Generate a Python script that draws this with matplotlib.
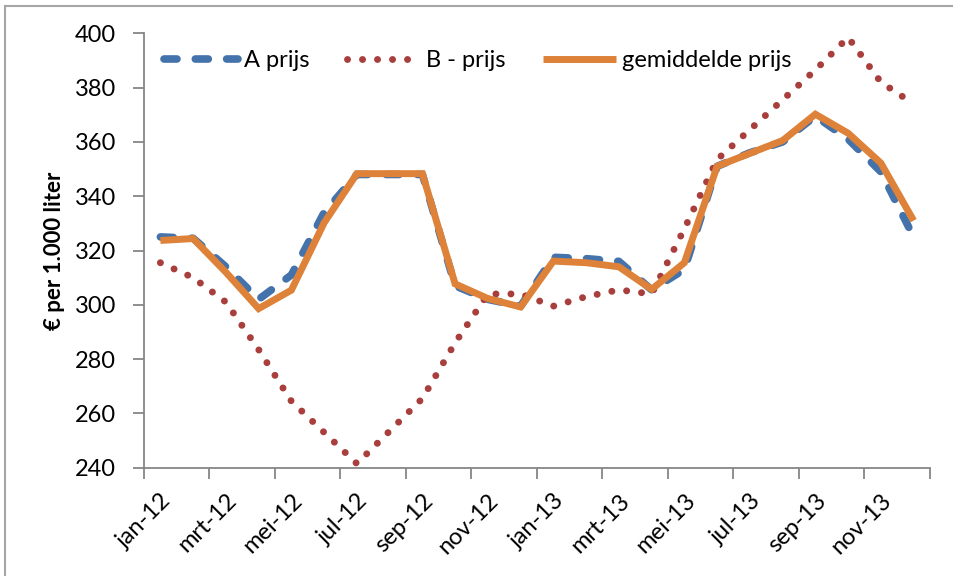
import matplotlib
matplotlib.use('Agg')
import matplotlib.pyplot as plt
from matplotlib.patches import Rectangle

months = ['jan-12', 'feb-12', 'mrt-12', 'apr-12', 'mei-12', 'jun-12', 'jul-12', 'aug-12',
          'sep-12', 'okt-12', 'nov-12', 'dec-12', 'jan-13', 'feb-13', 'mrt-13', 'apr-13',
          'mei-13', 'jun-13', 'jul-13', 'aug-13', 'sep-13', 'okt-13', 'nov-13', 'dec-13']

a_prijs = [325, 324.5, 314, 302, 311, 334, 348, 348, 348, 307, 302, 299.5,
           317.5, 317, 316, 305.5, 313, 351, 356, 360, 369.5, 361, 349, 325]
b_prijs = [315.5, 310, 301, 283.5, 264.5, 253, 241.5, 253.5, 265.5, 286, 304, 304,
           299.5, 303, 305.5, 304, 328, 353.5, 364.5, 375.5, 386.5, 398.5, 382, 374]
gem_prijs = [323.7, 324.4, 312, 298.6, 305.4, 330.2, 348.3, 348.3, 348.3, 307.7, 302.3, 299.2,
             316.1, 315.5, 314, 305.7, 315.5, 351, 355.8, 360.5, 370.2, 363.2, 352.2, 331]

plt.rcParams['font.family'] = ['Lato', 'DejaVu Sans']
fs = 17

fig = plt.figure(figsize=(9.54, 5.76), dpi=100)
ax = fig.add_axes([144 / 954, 1 - 467.7 / 576, (930 - 144) / 954, (467.7 - 33.3) / 576])

x = list(range(len(months)))
ax.plot(x, a_prijs, color='#4472AA', lw=5.5, dashes=(1.7, 2.4),
        dash_capstyle='round', solid_capstyle='round', label='A prijs')
ax.plot(x, b_prijs, color='#A83F3C', lw=5.0, dashes=(0.01, 2.15),
        dash_capstyle='round', label='B - prijs')
ax.plot(x, gem_prijs, color='#DD8238', lw=5, solid_joinstyle='miter',
        solid_capstyle='butt', label='gemiddelde prijs')

ax.set_xlim(-0.5, 23.5)
ax.set_ylim(240, 400)
ax.set_yticks(range(240, 401, 20))
ax.set_xticks([i - 0.5 for i in range(0, 25, 2)])
ax.set_xticklabels([])
ax.set_xticks(x[::2], minor=True)
ax.set_xticklabels(months[::2], minor=True, rotation=45, ha='right',
                   va='top', rotation_mode='anchor', fontsize=fs)
ax.tick_params(axis='x', which='minor', length=0, pad=16)
ax.tick_params(axis='both', which='major', length=8, width=1.3, color='#868686',
               labelsize=fs, direction='out')
ax.tick_params(axis='y', pad=12)

for s in ['top', 'right']:
    ax.spines[s].set_visible(False)
for s in ['left', 'bottom']:
    ax.spines[s].set_color('#868686')
    ax.spines[s].set_linewidth(1.3)

ax.set_ylabel('€ per 1.000 liter', fontsize=16, fontweight='bold')
ax.yaxis.set_label_coords(-0.1, 0.5)

ax.legend(loc='upper left', bbox_to_anchor=(0.005, 1.0), ncol=3, frameon=False,
          fontsize=fs, handlelength=3.1, handletextpad=0.25, columnspacing=1.6,
          borderaxespad=0.3)

fig.patches.append(Rectangle((5.5 / 954, -0.1), 1.2, 1 - 5.5 / 576 + 0.1,
                             transform=fig.transFigure, fill=False,
                             edgecolor='#A6A6A6', lw=1.5))

fig.savefig('out.png', dpi=100)
